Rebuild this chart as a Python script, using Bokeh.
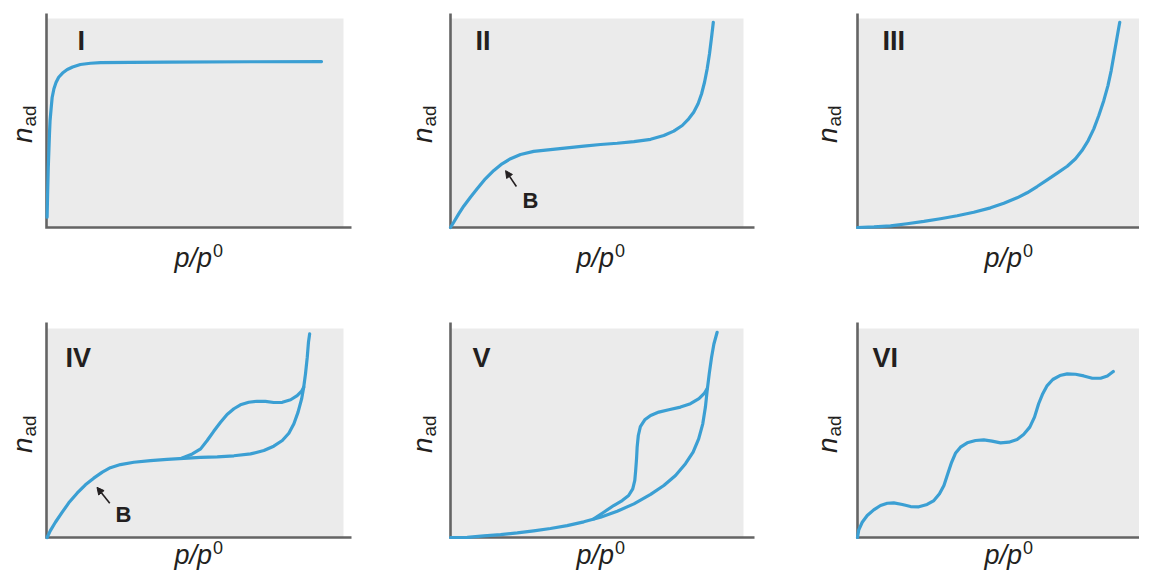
import math
from bokeh.plotting import figure
from bokeh.layouts import column, row
from bokeh.models import Range1d, Arrow, NormalHead
from bokeh.core.properties import value
from bokeh.embed import file_html
from bokeh.resources import INLINE

# ---------------- data (gray box = [0,1] x [0,1]) ----------------
panel_names = ["I", "II", "III", "IV", "V", "VI"]
x_label_main = "p/p"
x_label_sup = "0"
y_label_main = "n"
y_label_sub = "ad"
point_label = "B"

# Type I
x_I = [0.002, 0.004, 0.006, 0.008, 0.010, 0.012, 0.016, 0.019, 0.025, 0.032, 0.041,
       0.054, 0.070, 0.088, 0.114, 0.148, 0.182, 0.283, 0.406, 0.687, 0.926]
y_I = [0.049, 0.177, 0.289, 0.368, 0.448, 0.512, 0.576, 0.622, 0.664, 0.694, 0.719,
       0.739, 0.756, 0.768, 0.780, 0.786, 0.789, 0.790, 0.791, 0.793, 0.794]

# Type II
x_II = [0.0, 0.011, 0.028, 0.045, 0.068, 0.091, 0.119, 0.148, 0.176, 0.205, 0.239,
        0.284, 0.341, 0.398, 0.455, 0.512, 0.569, 0.626, 0.683, 0.728, 0.762, 0.791,
        0.813, 0.830, 0.845, 0.857, 0.867, 0.876, 0.884, 0.891, 0.897]
y_II = [0.0, 0.025, 0.065, 0.102, 0.145, 0.185, 0.233, 0.273, 0.305, 0.329, 0.349,
        0.364, 0.373, 0.381, 0.389, 0.397, 0.403, 0.411, 0.422, 0.440, 0.461, 0.488,
        0.520, 0.551, 0.592, 0.640, 0.695, 0.759, 0.831, 0.910, 0.982]

# Type III
x_III = [0.0, 0.056, 0.112, 0.168, 0.225, 0.281, 0.338, 0.394, 0.451, 0.496, 0.541,
         0.575, 0.609, 0.643, 0.677, 0.711, 0.739, 0.761, 0.782, 0.801, 0.818, 0.835,
         0.849, 0.860, 0.869, 0.878, 0.885, 0.889]
y_III = [0.0, 0.003, 0.008, 0.018, 0.029, 0.042, 0.056, 0.073, 0.094, 0.116, 0.142,
         0.166, 0.196, 0.228, 0.260, 0.293, 0.329, 0.368, 0.416, 0.472, 0.536, 0.608,
         0.679, 0.751, 0.823, 0.895, 0.951, 0.982]

# Type IV (adsorption branch + desorption branch)
x_IV_ads = [0.002, 0.013, 0.030, 0.053, 0.075, 0.103, 0.131, 0.159, 0.188, 0.215, 0.249,
            0.294, 0.350, 0.406, 0.462, 0.518, 0.575, 0.631, 0.687, 0.732, 0.765, 0.794,
            0.816, 0.833, 0.847, 0.859, 0.866, 0.872, 0.878, 0.882, 0.886]
y_IV_ads = [0.0, 0.033, 0.073, 0.121, 0.166, 0.212, 0.252, 0.284, 0.313, 0.334, 0.349,
            0.360, 0.368, 0.374, 0.379, 0.383, 0.386, 0.391, 0.400, 0.416, 0.437, 0.464,
            0.499, 0.544, 0.600, 0.663, 0.719, 0.783, 0.863, 0.934, 0.974]
x_IV_des = [0.457, 0.491, 0.519, 0.541, 0.563, 0.586, 0.608, 0.631, 0.653, 0.681, 0.709,
            0.737, 0.765, 0.794, 0.822, 0.844, 0.859, 0.866]
y_IV_des = [0.381, 0.400, 0.424, 0.464, 0.508, 0.551, 0.589, 0.616, 0.635, 0.647, 0.652,
            0.651, 0.646, 0.647, 0.659, 0.679, 0.700, 0.719]

# Type V (adsorption branch + desorption branch)
x_V_ads = [0.0, 0.057, 0.114, 0.171, 0.228, 0.284, 0.341, 0.398, 0.455, 0.512, 0.569,
           0.626, 0.683, 0.728, 0.768, 0.802, 0.828, 0.847, 0.861, 0.870, 0.876, 0.883,
           0.891, 0.899, 0.910]
y_V_ads = [0.0, 0.001, 0.008, 0.014, 0.022, 0.032, 0.043, 0.057, 0.075, 0.097, 0.126,
           0.161, 0.206, 0.249, 0.297, 0.353, 0.408, 0.472, 0.544, 0.624, 0.703, 0.783,
           0.862, 0.926, 0.982]
x_V_des = [0.489, 0.523, 0.557, 0.586, 0.608, 0.622, 0.629, 0.632, 0.635, 0.637, 0.641,
           0.648, 0.663, 0.683, 0.711, 0.745, 0.785, 0.819, 0.848, 0.867, 0.876]
y_V_des = [0.089, 0.121, 0.153, 0.177, 0.201, 0.233, 0.273, 0.321, 0.377, 0.432, 0.488,
           0.531, 0.563, 0.584, 0.600, 0.611, 0.624, 0.640, 0.664, 0.691, 0.712]

# Type VI (stepwise)
x_VI = [0.0, 0.004, 0.016, 0.033, 0.055, 0.078, 0.101, 0.123, 0.152, 0.180, 0.208,
        0.236, 0.259, 0.278, 0.293, 0.306, 0.319, 0.332, 0.349, 0.372, 0.400, 0.428,
        0.456, 0.485, 0.513, 0.541, 0.563, 0.584, 0.600, 0.614, 0.628, 0.643, 0.662,
        0.686, 0.711, 0.739, 0.767, 0.796, 0.824, 0.847, 0.867]
y_VI = [0.0, 0.035, 0.073, 0.105, 0.132, 0.153, 0.164, 0.166, 0.158, 0.148, 0.147,
        0.158, 0.177, 0.209, 0.249, 0.305, 0.360, 0.403, 0.432, 0.453, 0.464, 0.467,
        0.461, 0.453, 0.456, 0.469, 0.493, 0.528, 0.576, 0.640, 0.688, 0.727, 0.756,
        0.775, 0.783, 0.781, 0.773, 0.762, 0.762, 0.773, 0.794]

# ---------------- style / layout (pixels) ----------------
BLUE = "#3b9fd3"
GRAY_BG = "#ebebeb"
AXIS = "#646464"
INK = "#231f20"
FONT = "Liberation Sans"
K = 0.35  # empirical baseline correction (fraction of font size)

col_left = [0, 397, 792]
col_w = [397, 395, 347]
row_top = [0, 285]
row_h = [285, 286]
box_L = [46, 450, 857]
box_R = [343, 743, 1152]
box_T = [18, 328]
box_B = [227, 537]
axis_top = [13, 322]
axis_right = [351, 754, 1170]
ylab_base = [32, 432, 837]
xlab_base = [267, 564]
numeral_left = [[77, 475, 882], [65, 472, 872]]
numeral_base = [50, 367]


def make_panel(r, c, curves, name, b_label=None):
    L, R = box_L[c], box_R[c]
    T, B = box_T[r], box_B[r]
    sx, sy = R - L, B - T
    cl, cw = col_left[c], col_w[c]
    ct, ch = row_top[r], row_h[r]

    def dx(px):
        return (px - L) / sx

    def dy(py):
        return (B - py) / sy

    p = figure(width=cw, height=ch, output_backend="svg", toolbar_location=None,
               x_axis_location=None, y_axis_location=None,
               x_range=Range1d(dx(cl), dx(cl + cw)),
               y_range=Range1d(dy(ct + ch), dy(ct)),
               min_border=0, outline_line_color=None,
               background_fill_color="white", border_fill_color="white")
    p.xgrid.visible = False
    p.ygrid.visible = False

    def htext(px, py, txt, size, style="normal", align="left"):
        p.text(x=[dx(px)], y=[dy(py - K * size)], text=[txt],
               text_font=value(FONT), text_font_size=f"{size}px", text_font_style=style,
               text_color=INK, text_align=align, text_baseline="alphabetic")

    def vtext(px, py, txt, size, style="normal"):
        p.text(x=[dx(px - K * size)], y=[dy(py)], text=[txt], angle=math.pi / 2,
               text_font=value(FONT), text_font_size=f"{size}px", text_font_style=style,
               text_color=INK, text_align="left", text_baseline="alphabetic")

    # gray plotting area
    p.quad(left=[0], right=[1], bottom=[0], top=[1], fill_color=GRAY_BG, line_color=None)
    # axes (L-shaped line)
    p.line([0, 0, dx(axis_right[c])], [dy(axis_top[r]), 0, 0],
           line_color=AXIS, line_width=2.6, line_join="miter")

    for xs, ys in curves:
        p.line(xs, ys, line_color=BLUE, line_width=3.2, line_cap="round", line_join="round")

    # panel numeral
    htext(numeral_left[r][c], numeral_base[r], name, 27, "bold")

    # x label  p/p^0
    xc = (L + R) / 2 + 3 + 14
    htext(xc, xlab_base[r], x_label_main, 27, "italic", "right")
    htext(xc + 1, xlab_base[r] - 11, x_label_sup, 18)

    # y label  n_ad (rotated)
    bx = ylab_base[c]
    yc = (T + B) / 2
    vtext(bx, yc + 20, y_label_main, 28, "italic")
    vtext(bx + 3.5, yc + 20 - 16.5, y_label_sub, 19)

    if b_label is not None:
        (bxl, byl), (tx, ty), (hx, hy) = b_label
        htext(L + bxl * sx, B - byl * sy, point_label, 22, "bold")
        p.add_layout(Arrow(end=NormalHead(size=7, fill_color=INK, line_color=INK),
                           x_start=tx, y_start=ty, x_end=hx, y_end=hy,
                           line_color=INK, line_width=1.6))
    return p


# B annotations: (label left/baseline), (arrow tail), (arrow tip) in box units
B_II = ((0.246, 0.091), (0.225, 0.196), (0.188, 0.272))
B_IV = ((0.232, 0.072), (0.213, 0.164), (0.170, 0.240))

p1 = make_panel(0, 0, [(x_I, y_I)], panel_names[0])
p2 = make_panel(0, 1, [(x_II, y_II)], panel_names[1], B_II)
p3 = make_panel(0, 2, [(x_III, y_III)], panel_names[2])
p4 = make_panel(1, 0, [(x_IV_ads, y_IV_ads), (x_IV_des, y_IV_des)], panel_names[3], B_IV)
p5 = make_panel(1, 1, [(x_V_ads, y_V_ads), (x_V_des, y_V_des)], panel_names[4])
p6 = make_panel(1, 2, [(x_VI, y_VI)], panel_names[5])

layout = column(row(p1, p2, p3), row(p4, p5, p6))
open("out.html", "w").write(file_html(layout, INLINE))
